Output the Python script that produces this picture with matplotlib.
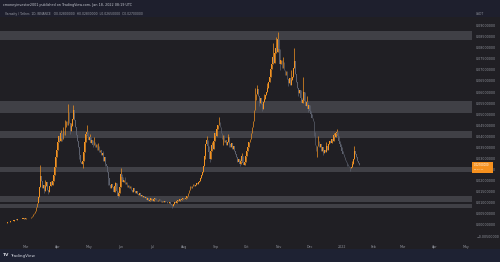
import numpy as np
import pandas as pd
import matplotlib
matplotlib.use("Agg")
import matplotlib.pyplot as plt
import matplotlib.dates as mdates
from matplotlib.patches import Rectangle

# ---------------- data (prices in 1/1000 USDT) ----------------
start_date = "2021-02-07"
close_milli = [
    0.9,1.0,1.0,1.1,1.2,1.3,1.4,1.6,1.7,1.9,2.0,2.2,2.4,2.3,2.5,2.6,2.7,2.6,2.8,2.9,3.0,2.9,3.0,3.1,3.2,3.1,
    3.3,3.6,4.2,5.0,5.6,6.5,8.0,9.9,12.5,17.0,22.0,20.0,
    16.5,18.0,15.2,17.8,19.5,16.0,14.8,17.5,19.2,18.0,19.8,
    22.5,26.0,30.5,34.0,37.5,40.0,38.0,
    41.5,39.0,42.5,40.5,44.0,47.0,45.0,
    51.0,46.0,42.5,44.5,48.0,52.0,47.5,44.0,40.5,38.0,
    35.0,31.5,28.5,27.5,29.0,33.0,37.5,41.0,42.0,40.0,38.5,
    39.5,37.0,38.5,36.0,37.5,35.0,36.5,34.0,35.5,33.0,34.0,
    31.5,32.5,29.0,30.5,27.5,26.5,
    24.0,21.0,18.0,16.5,18.5,17.0,
    15.0,17.5,19.0,15.5,13.0,14.5,17.0,
    23.0,21.5,19.5,20.5,18.5,19.5,17.0,18.0,16.5,17.5,
    16.0,15.0,16.5,15.5,14.5,15.5,14.0,13.5,14.5,13.0,13.5,12.5,13.0,
    12.0,12.5,11.5,12.0,11.0,11.5,12.2,11.8,11.0,11.6,12.3,11.5,11.0,
    11.4,11.8,11.2,10.6,11.0,10.4,10.8,10.2,10.6,10.0,9.8,10.3,9.5,9.0,
    8.5,9.6,10.4,10.0,10.8,11.5,11.0,11.8,11.2,11.6,12.2,11.7,11.9,12.4,
    13.0,14.5,16.0,17.5,16.8,17.8,18.5,17.6,18.2,19.0,18.4,19.3,20.0,21.0,
    22.5,24.0,26.5,
    31.0,36.5,38.5,35.5,
    33.0,30.0,33.5,36.0,34.5,
    38.0,41.5,40.0,43.5,45.0,46.5,44.0,
    41.5,39.0,40.5,37.5,38.5,36.0,37.5,39.5,36.5,35.0,37.0,34.5,35.5,33.5,32.0,
    30.5,28.5,30.0,27.5,29.0,31.0,28.0,27.0,28.5,
    31.0,33.5,35.0,37.5,39.0,41.5,44.0,47.0,
    52.0,56.5,59.0,61.5,58.0,55.0,57.5,54.5,52.5,55.5,57.0,58.5,60.0,62.0,64.5,
    67.0,70.5,72.5,76.0,73.0,77.5,80.0,78.0,84.0,79.5,72.5,74.5,
    71.0,73.5,70.0,67.5,69.5,66.0,64.0,66.5,63.0,
    65.5,67.0,71.0,74.0,68.0,64.5,62.0,
    59.5,61.0,57.5,55.0,56.5,
    60.0,56.0,53.5,55.5,52.5,54.0,51.5,
    50.0,48.5,47.0,
    42.0,36.0,33.5,35.5,
    38.0,35.0,36.5,33.5,35.0,32.5,34.0,33.0,35.5,34.0,36.5,38.0,
    37.0,39.0,38.0,40.5,39.5,41.5,42.0,
    40.0,38.0,36.5,35.0,33.5,32.0,30.5,29.5,28.5,27.5,
    26.5,26.0,25.5,26.0,27.5,
    30.0,33.5,32.0,
    30.5,29.0,28.0,27.0,
]
first_open_milli = 0.85
spike_high_milli = {36: 27.0, 41: 20.5, 46: 20.0, 56: 43.0, 58: 44.0, 60: 47.5,
                    63: 54.6, 66: 46.0, 68: 54.0, 79: 39.0, 81: 45.0, 84: 41.0,
                    88: 39.5, 92: 37.0, 97: 33.5, 108: 19.5, 114: 25.7, 118: 21.5,
                    197: 40.0, 202: 37.5, 207: 45.0, 209: 48.7, 212: 41.0,
                    218: 41.0, 231: 32.5, 244: 62.0, 246: 63.0, 253: 59.0,
                    256: 64.0, 261: 82.0, 263: 79.0, 264: 85.0, 266: 87.0,
                    271: 76.0, 279: 70.0, 282: 80.0, 288: 60.0, 290: 67.0,
                    294: 58.0, 305: 40.0, 313: 37.5, 320: 41.5, 323: 43.5,
                    338: 29.0, 340: 35.5}
spike_low_milli = {40: 14.5, 44: 14.0, 57: 38.0, 65: 41.0, 74: 30.0, 77: 25.5,
                   87: 35.0, 99: 26.5, 102: 18.0, 110: 14.5, 111: 12.0, 164: 7.7,
                   196: 30.0, 200: 28.5, 213: 36.0, 219: 35.0, 229: 26.5,
                   248: 53.5, 251: 51.5, 268: 70.0, 276: 62.5, 286: 58.0,
                   295: 51.0, 301: 40.0, 304: 30.5, 310: 31.5, 333: 26.5,
                   336: 24.5}
zones_lo_milli = [83.5, 50.5, 39.3, 23.9, 10.4, 7.7]
zones_hi_milli = [87.5, 56.0, 42.4, 26.2, 13.1, 9.5]
month_ticks = ["2021-03-01","2021-04-01","2021-05-01","2021-06-01","2021-07-01",
               "2021-08-01","2021-09-01","2021-10-01","2021-11-01","2021-12-01",
               "2022-01-01","2022-02-01","2022-03-01","2022-04-01","2022-05-01"]
month_labels = ["Mar","Apr","May","Jun","Jul","Aug","Sep","Oct","Nov","Dec",
                "2022","Feb","Mar","Apr","May"]
last_price_text = "0.02700000"
countdown_text = "05:40:21"
header1 = "cmoneyinvestor2001 published on TradingView.com, Jan 18, 2022 08:19 UTC"
header2 = ("Verasity / Tether, 1D, BINANCE   O0.02800000  H0.02830000  "
           "L0.02650000  C0.02700000")

# ---------------- styles ----------------
W, H = 500, 262
BG = "#201f24"
HEAD_BG = "#1e1f2d"
FOOT_BG = "#1e2233"
ZONE = "#404046"
UP = "#f39322"
DOWN = "#5c606d"
TXT = "#8f929b"

close = np.array(close_milli) / 1000.0
opens = np.concatenate([[first_open_milli / 1000.0], close[:-1]])
highs = np.maximum(opens, close)
lows = np.minimum(opens, close)
for d, v in spike_high_milli.items():
    highs[d] = max(highs[d], v / 1000.0)
for d, v in spike_low_milli.items():
    lows[d] = min(lows[d], v / 1000.0)

dates = pd.date_range(start_date, periods=len(close), freq="D")
xs = mdates.date2num(dates.to_pydatetime())
base = xs[0]

fig = plt.figure(figsize=(W / 100, H / 100), dpi=100, facecolor=BG)
fig.patches.append(Rectangle((0, 1 - 17 / H), 1, 17 / H, transform=fig.transFigure,
                             facecolor=HEAD_BG, edgecolor="none", zorder=0))
fig.patches.append(Rectangle((0, 0), 1, 13 / H, transform=fig.transFigure,
                             facecolor=FOOT_BG, edgecolor="none", zorder=0))

ax = fig.add_axes([0, (H - 240) / H, 472 / W, 220 / H])
ax.set_facecolor(BG)
for s in ax.spines.values():
    s.set_visible(False)

for lo, hi in zip(zones_lo_milli, zones_hi_milli):
    ax.axhspan(lo / 1000.0, hi / 1000.0, color=ZONE, lw=0, zorder=1)

cols = [UP if c >= o else DOWN for o, c in zip(opens, close)]
ax.vlines(xs, lows, highs, colors=cols, lw=0.5, zorder=2)
body_h = np.maximum(np.abs(close - opens), 0.0002)
ax.bar(xs, body_h, bottom=np.minimum(opens, close), width=0.75, color=cols,
       lw=0, zorder=3)

ax.set_xlim(base - 2.9, base + 454)
ax.set_ylim(-0.00677, 0.0925)

yt = np.round(np.arange(-0.005, 0.0901, 0.005), 3)
ax.yaxis.tick_right()
ax.set_yticks(yt)
ax.set_yticklabels([("\u2212" if v < 0 else "") + f"{abs(v):.8f}" for v in yt])
ax.tick_params(axis="y", length=0, pad=3.0, labelsize=2.3, labelcolor=TXT)

mt = mdates.date2num(pd.to_datetime(month_ticks).to_pydatetime())
ax.set_xticks(mt)
ax.set_xticklabels(month_labels)
ax.tick_params(axis="x", length=0, pad=3.6, labelsize=2.3, labelcolor=TXT)

# last price label
fig.patches.append(Rectangle((472 / W, 1 - 172.5 / H), 21 / W, 11 / H,
                             transform=fig.transFigure, facecolor="#f5901e",
                             edgecolor="none", zorder=5))
fig.text(474 / W, 1 - 164.6 / H, last_price_text, fontsize=1.9, color="white",
         va="center", ha="left", zorder=6)
fig.text(474 / W, 1 - 169.8 / H, countdown_text, fontsize=1.7, color="#fde6c8",
         va="center", ha="left", zorder=6)
fig.text(476 / W, 1 - 14 / H, "USDT", fontsize=2.2, color=TXT, va="center", ha="left")

fig.text(3 / W, 1 - 5 / H, header1, fontsize=2.4, color="#c3c6ce", va="center", ha="left")
fig.text(5 / W, 1 - 13.5 / H, header2, fontsize=2.2, color="#9a9da6", va="center", ha="left")

fig.text(3 / W, 1 - 255.5 / H, "TV", fontsize=3.2, color="#d1d4dc", fontweight="bold",
         va="center", ha="left")
fig.text(10 / W, 1 - 255.5 / H, "TradingView", fontsize=3.0, color="#d1d4dc",
         va="center", ha="left")

fig.savefig("out.png", dpi=100, facecolor=BG)
